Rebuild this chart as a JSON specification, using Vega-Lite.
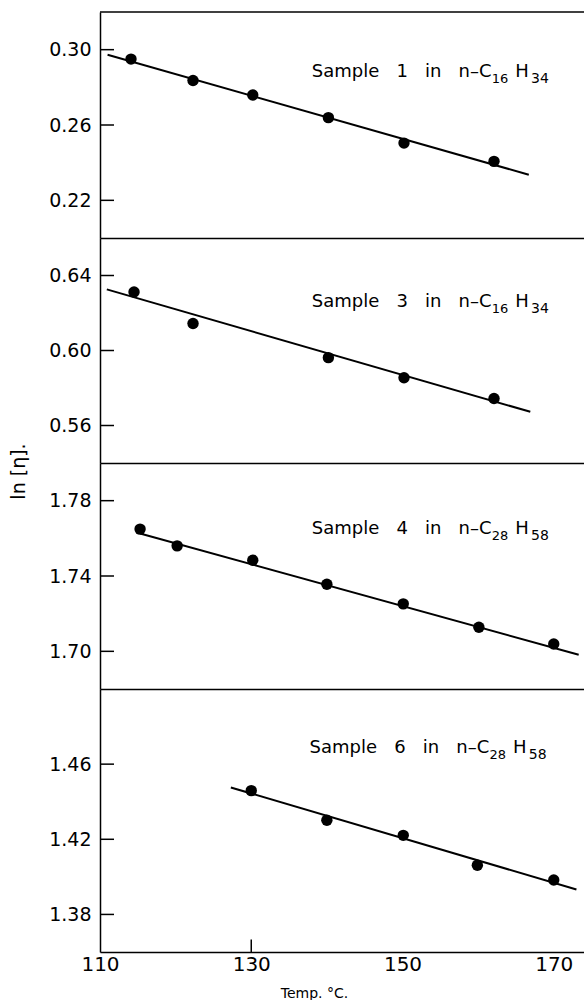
{
  "$schema": "https://vega.github.io/schema/vega-lite/v6.json",
  "padding": {"left": 9, "top": 11, "right": 0, "bottom": 0},
  "spacing": 0,
  "bounds": "flush",
  "background": "white",
  "config": {
    "view": {"stroke": null},
    "font": "DejaVu Sans",
    "axis": {
      "grid": false,
      "domainColor": "black",
      "domainWidth": 1.5,
      "ticks": false,
      "labelColor": "black",
      "titleColor": "black",
      "labelFont": "DejaVu Sans",
      "titleFont": "DejaVu Sans",
      "titleFontWeight": "normal"
    },
    "text": {"font": "DejaVu Sans", "color": "black"}
  },
  "datasets": {
    "s1": [
      {"temp": 114.1, "ln_eta": 0.2950},
      {"temp": 122.3, "ln_eta": 0.2836},
      {"temp": 130.2, "ln_eta": 0.2759},
      {"temp": 140.2, "ln_eta": 0.2639},
      {"temp": 150.2, "ln_eta": 0.2504},
      {"temp": 162.1, "ln_eta": 0.2407}
    ],
    "s1fit": [
      {"temp": 111.0, "ln_eta": 0.2973},
      {"temp": 166.7, "ln_eta": 0.2336}
    ],
    "s3": [
      {"temp": 114.5, "ln_eta": 0.6312},
      {"temp": 122.3, "ln_eta": 0.6144},
      {"temp": 140.2, "ln_eta": 0.5962},
      {"temp": 150.2, "ln_eta": 0.5855},
      {"temp": 162.1, "ln_eta": 0.5744}
    ],
    "s3fit": [
      {"temp": 110.9, "ln_eta": 0.6326},
      {"temp": 166.9, "ln_eta": 0.5673}
    ],
    "s4": [
      {"temp": 115.3, "ln_eta": 1.7649},
      {"temp": 120.2, "ln_eta": 1.7560},
      {"temp": 130.2, "ln_eta": 1.7484},
      {"temp": 140.0, "ln_eta": 1.7356},
      {"temp": 150.1, "ln_eta": 1.7252},
      {"temp": 160.1, "ln_eta": 1.7128},
      {"temp": 170.0, "ln_eta": 1.7039}
    ],
    "s4fit": [
      {"temp": 115.3, "ln_eta": 1.7626},
      {"temp": 173.3, "ln_eta": 1.6982}
    ],
    "s6": [
      {"temp": 130.0, "ln_eta": 1.4459},
      {"temp": 140.0, "ln_eta": 1.4301},
      {"temp": 150.1, "ln_eta": 1.4221},
      {"temp": 159.9, "ln_eta": 1.4062},
      {"temp": 170.0, "ln_eta": 1.3983}
    ],
    "s6fit": [
      {"temp": 127.3, "ln_eta": 1.4476},
      {"temp": 173.0, "ln_eta": 1.3933}
    ]
  },
  "vconcat": [
    {
      "width": 484,
      "height": 226,
      "layer": [
        {
          "data": {"name": "s1"},
          "mark": {"type": "circle", "size": 130, "opacity": 1, "color": "black"},
          "encoding": {
            "x": {"field": "temp", "type": "quantitative", "scale": {"domain": [110, 174], "nice": false, "zero": false},
                  "axis": {"labels": false, "title": null, "domain": true}},
            "y": {"field": "ln_eta", "type": "quantitative", "scale": {"domain": [0.2, 0.32], "nice": false, "zero": false},
                  "axis": {"values": [0.22, 0.26, 0.30], "format": ".2f", "labelPadding": 9, "labelFontSize": 19, "title": null}}
          }
        },
        {
          "data": {"name": "s1fit"},
          "mark": {"type": "line", "color": "black", "strokeWidth": 2},
          "encoding": {"x": {"field": "temp", "type": "quantitative"}, "y": {"field": "ln_eta", "type": "quantitative"}}
        },
        {
          "data": {"values": [{"v": 0.22}, {"v": 0.26}, {"v": 0.30}]},
          "mark": {"type": "rule", "color": "black", "strokeWidth": 1.5},
          "encoding": {"y": {"field": "v", "type": "quantitative"}, "x": {"datum": 110}, "x2": {"datum": 111.85}}
        },
        {
          "data": {"values": [{"top": 0.32}]},
          "mark": {"type": "rule", "color": "black", "strokeWidth": 1.5},
          "encoding": {"y": {"field": "top", "type": "quantitative"}}
        },
        {
          "data": {"values": [{"label": "Sample\u00a0\u00a0\u00a01\u00a0\u00a0\u00a0in\u00a0\u00a0\u00a0n\u2013C"}]},
          "mark": {"type": "text", "align": "left", "baseline": "middle", "fontSize": 18},
          "encoding": {"text": {"field": "label"}, "x": {"datum": 138}, "y": {"datum": 0.288}}
        },
        {
          "data": {"values": [{"label": "16"}]},
          "mark": {"type": "text", "align": "left", "baseline": "middle", "fontSize": 13, "dy": 7},
          "encoding": {"text": {"field": "label"}, "x": {"datum": 161.8}, "y": {"datum": 0.288}}
        },
        {
          "data": {"values": [{"label": "H"}]},
          "mark": {"type": "text", "align": "left", "baseline": "middle", "fontSize": 18},
          "encoding": {"text": {"field": "label"}, "x": {"datum": 164.9}, "y": {"datum": 0.288}}
        },
        {
          "data": {"values": [{"label": "34"}]},
          "mark": {"type": "text", "align": "left", "baseline": "middle", "fontSize": 14, "dy": 7},
          "encoding": {"text": {"field": "label"}, "x": {"datum": 167.0}, "y": {"datum": 0.288}}
        }
      ]
    },
    {
      "width": 484,
      "height": 225,
      "layer": [
        {
          "data": {"name": "s3"},
          "mark": {"type": "circle", "size": 130, "opacity": 1, "color": "black"},
          "encoding": {
            "x": {"field": "temp", "type": "quantitative", "scale": {"domain": [110, 174], "nice": false, "zero": false},
                  "axis": {"labels": false, "title": null, "domain": true}},
            "y": {"field": "ln_eta", "type": "quantitative", "scale": {"domain": [0.54, 0.66], "nice": false, "zero": false},
                  "axis": {"values": [0.56, 0.60, 0.64], "format": ".2f", "labelPadding": 9, "labelFontSize": 19, "title": null}}
          }
        },
        {
          "data": {"name": "s3fit"},
          "mark": {"type": "line", "color": "black", "strokeWidth": 2},
          "encoding": {"x": {"field": "temp", "type": "quantitative"}, "y": {"field": "ln_eta", "type": "quantitative"}}
        },
        {
          "data": {"values": [{"v": 0.56}, {"v": 0.60}, {"v": 0.64}]},
          "mark": {"type": "rule", "color": "black", "strokeWidth": 1.5},
          "encoding": {"y": {"field": "v", "type": "quantitative"}, "x": {"datum": 110}, "x2": {"datum": 111.85}}
        },
        {
          "data": {"values": [{"label": "Sample\u00a0\u00a0\u00a03\u00a0\u00a0\u00a0in\u00a0\u00a0\u00a0n\u2013C"}]},
          "mark": {"type": "text", "align": "left", "baseline": "middle", "fontSize": 18},
          "encoding": {"text": {"field": "label"}, "x": {"datum": 138}, "y": {"datum": 0.6259}}
        },
        {
          "data": {"values": [{"label": "16"}]},
          "mark": {"type": "text", "align": "left", "baseline": "middle", "fontSize": 13, "dy": 7},
          "encoding": {"text": {"field": "label"}, "x": {"datum": 161.8}, "y": {"datum": 0.6259}}
        },
        {
          "data": {"values": [{"label": "H"}]},
          "mark": {"type": "text", "align": "left", "baseline": "middle", "fontSize": 18},
          "encoding": {"text": {"field": "label"}, "x": {"datum": 164.9}, "y": {"datum": 0.6259}}
        },
        {
          "data": {"values": [{"label": "34"}]},
          "mark": {"type": "text", "align": "left", "baseline": "middle", "fontSize": 14, "dy": 7},
          "encoding": {"text": {"field": "label"}, "x": {"datum": 167.0}, "y": {"datum": 0.6259}}
        }
      ]
    },
    {
      "width": 484,
      "height": 226,
      "layer": [
        {
          "data": {"name": "s4"},
          "mark": {"type": "circle", "size": 130, "opacity": 1, "color": "black"},
          "encoding": {
            "x": {"field": "temp", "type": "quantitative", "scale": {"domain": [110, 174], "nice": false, "zero": false},
                  "axis": {"labels": false, "title": null, "domain": true}},
            "y": {"field": "ln_eta", "type": "quantitative", "scale": {"domain": [1.68, 1.80], "nice": false, "zero": false},
                  "axis": {"values": [1.70, 1.74, 1.78], "format": ".2f", "labelPadding": 9, "labelFontSize": 19,
                           "title": "ln [η].", "titleFontSize": 19, "titleAngle": -90, "titleX": -82, "titleY": 8,
                           "titleAlign": "center", "titleBaseline": "middle"}}
          }
        },
        {
          "data": {"name": "s4fit"},
          "mark": {"type": "line", "color": "black", "strokeWidth": 2},
          "encoding": {"x": {"field": "temp", "type": "quantitative"}, "y": {"field": "ln_eta", "type": "quantitative"}}
        },
        {
          "data": {"values": [{"v": 1.70}, {"v": 1.74}, {"v": 1.78}]},
          "mark": {"type": "rule", "color": "black", "strokeWidth": 1.5},
          "encoding": {"y": {"field": "v", "type": "quantitative"}, "x": {"datum": 110}, "x2": {"datum": 111.85}}
        },
        {
          "data": {"values": [{"label": "Sample\u00a0\u00a0\u00a04\u00a0\u00a0\u00a0in\u00a0\u00a0\u00a0n\u2013C"}]},
          "mark": {"type": "text", "align": "left", "baseline": "middle", "fontSize": 18},
          "encoding": {"text": {"field": "label"}, "x": {"datum": 138}, "y": {"datum": 1.7649}}
        },
        {
          "data": {"values": [{"label": "28"}]},
          "mark": {"type": "text", "align": "left", "baseline": "middle", "fontSize": 13, "dy": 7},
          "encoding": {"text": {"field": "label"}, "x": {"datum": 161.8}, "y": {"datum": 1.7649}}
        },
        {
          "data": {"values": [{"label": "H"}]},
          "mark": {"type": "text", "align": "left", "baseline": "middle", "fontSize": 18},
          "encoding": {"text": {"field": "label"}, "x": {"datum": 164.9}, "y": {"datum": 1.7649}}
        },
        {
          "data": {"values": [{"label": "58"}]},
          "mark": {"type": "text", "align": "left", "baseline": "middle", "fontSize": 14, "dy": 7},
          "encoding": {"text": {"field": "label"}, "x": {"datum": 167.0}, "y": {"datum": 1.7649}}
        }
      ]
    },
    {
      "width": 484,
      "height": 263,
      "layer": [
        {
          "data": {"name": "s6"},
          "mark": {"type": "circle", "size": 130, "opacity": 1, "color": "black"},
          "encoding": {
            "x": {"field": "temp", "type": "quantitative", "scale": {"domain": [110, 174], "nice": false, "zero": false},
                  "axis": {"values": [110, 130, 150, 170], "format": "d", "labelPadding": 2, "labelFontSize": 20, "labelFlush": false,
                           "title": "Temp. °C.", "titleFontSize": 14, "titleX": 214, "titleY": 41, "titleAlign": "center", "titleBaseline": "middle"}},
            "y": {"field": "ln_eta", "type": "quantitative", "scale": {"domain": [1.36, 1.50], "nice": false, "zero": false},
                  "axis": {"values": [1.38, 1.42, 1.46], "format": ".2f", "labelPadding": 9, "labelFontSize": 19, "title": null}}
          }
        },
        {
          "data": {"name": "s6fit"},
          "mark": {"type": "line", "color": "black", "strokeWidth": 2},
          "encoding": {"x": {"field": "temp", "type": "quantitative"}, "y": {"field": "ln_eta", "type": "quantitative"}}
        },
        {
          "data": {"values": [{"v": 1.38}, {"v": 1.42}, {"v": 1.46}]},
          "mark": {"type": "rule", "color": "black", "strokeWidth": 1.5},
          "encoding": {"y": {"field": "v", "type": "quantitative"}, "x": {"datum": 110}, "x2": {"datum": 111.85}}
        },
        {
          "data": {"values": [{"t": 130}]},
          "mark": {"type": "rule", "color": "black", "strokeWidth": 1.5},
          "encoding": {"x": {"field": "t", "type": "quantitative"}, "y": {"datum": 1.36}, "y2": {"datum": 1.3666}}
        },
        {
          "data": {"values": [{"label": "Sample\u00a0\u00a0\u00a06\u00a0\u00a0\u00a0in\u00a0\u00a0\u00a0n\u2013C"}]},
          "mark": {"type": "text", "align": "left", "baseline": "middle", "fontSize": 18},
          "encoding": {"text": {"field": "label"}, "x": {"datum": 137.7}, "y": {"datum": 1.4688}}
        },
        {
          "data": {"values": [{"label": "28"}]},
          "mark": {"type": "text", "align": "left", "baseline": "middle", "fontSize": 13, "dy": 7},
          "encoding": {"text": {"field": "label"}, "x": {"datum": 161.5}, "y": {"datum": 1.4688}}
        },
        {
          "data": {"values": [{"label": "H"}]},
          "mark": {"type": "text", "align": "left", "baseline": "middle", "fontSize": 18},
          "encoding": {"text": {"field": "label"}, "x": {"datum": 164.6}, "y": {"datum": 1.4688}}
        },
        {
          "data": {"values": [{"label": "58"}]},
          "mark": {"type": "text", "align": "left", "baseline": "middle", "fontSize": 14, "dy": 7},
          "encoding": {"text": {"field": "label"}, "x": {"datum": 166.7}, "y": {"datum": 1.4688}}
        }
      ]
    }
  ]
}
